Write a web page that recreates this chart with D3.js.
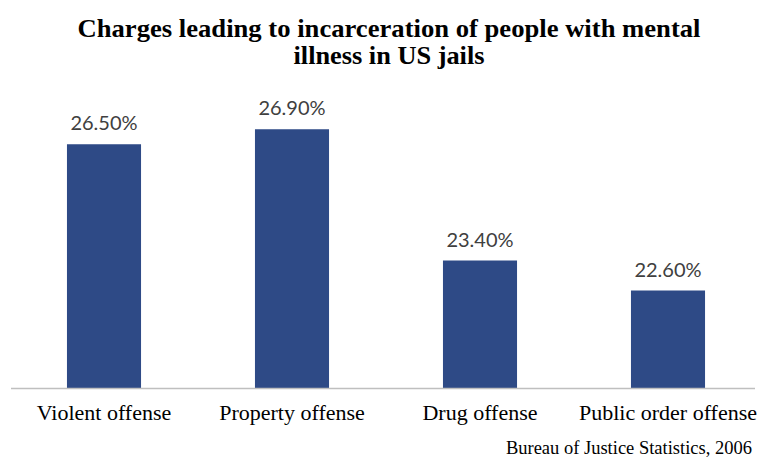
<!DOCTYPE html>
<html>
<head>
<meta charset="utf-8">
<script src="https://cdn.jsdelivr.net/npm/d3@7"></script>
<style>
  html, body { margin: 0; padding: 0; background: #fff; }
</style>
</head>
<body>
<div id="chart"></div>
<script>
// Chart data
const categories = ['Violent offense', 'Property offense', 'Drug offense', 'Public order offense'];
const shares = [26.5, 26.9, 23.4, 22.6];
const titleLines = ['Charges leading to incarceration of people with mental', 'illness in US jails'];
const sourceNote = 'Bureau of Justice Statistics, 2006';

const width = 761, height = 460;

const svg = d3.select('#chart')
    .append('svg')
    .attr('width', width)
    .attr('height', height);

// Title (condensed bold serif)
const titleY = [37, 64];
const titleWidths = [623, 191];
svg.append('g')
    .selectAll('text')
    .data(titleLines)
    .join('text')
    .attr('x', 389)
    .attr('y', (d, i) => titleY[i])
    .attr('text-anchor', 'middle')
    .attr('textLength', (d, i) => titleWidths[i])
    .attr('lengthAdjust', 'spacingAndGlyphs')
    .style('font-family', '"Liberation Serif", "Times New Roman", serif')
    .style('font-weight', 'bold')
    .style('font-size', '25px')
    .style('fill', '#000')
    .text(d => d);

// Scales
const x = d3.scaleBand()
    .domain(categories)
    .range([10, 762])
    .paddingInner(0.606)
    .paddingOuter(0.303);

const y = d3.scaleLinear()
    .domain([20, 28])
    .range([388, 88]);

// Bars
svg.append('g')
    .selectAll('rect')
    .data(shares)
    .join('rect')
    .attr('x', (d, i) => x(categories[i]))
    .attr('y', d => y(d))
    .attr('width', x.bandwidth())
    .attr('height', d => y(20) - y(d))
    .attr('fill', '#2E4A86');

// Value labels
svg.append('g')
    .selectAll('text')
    .data(shares)
    .join('text')
    .attr('x', (d, i) => x(categories[i]) + x.bandwidth() / 2)
    .attr('y', d => y(d) - 14)
    .attr('text-anchor', 'middle')
    .style('font-family', 'Lato, "Open Sans", sans-serif')
    .style('font-size', '20px')
    .style('fill', '#404040')
    .text(d => d.toFixed(2) + '%');

// Baseline axis
const xAxis = svg.append('g')
    .attr('transform', `translate(0,${y(20)})`)
    .call(d3.axisBottom(x).tickSize(0).tickPadding(16));

xAxis.select('.domain')
    .attr('d', 'M11,0.5H755')
    .attr('stroke', '#bfbfbf')
    .attr('stroke-width', 1.5);

xAxis.selectAll('text')
    .style('font-family', '"Liberation Serif", "Times New Roman", serif')
    .style('font-size', '22px')
    .style('fill', '#000');

// Source note
svg.append('text')
    .attr('x', 752)
    .attr('y', 454)
    .attr('text-anchor', 'end')
    .style('font-family', '"Liberation Serif", "Times New Roman", serif')
    .style('font-size', '18.5px')
    .style('fill', '#000')
    .text(sourceNote);
</script>
</body>
</html>
